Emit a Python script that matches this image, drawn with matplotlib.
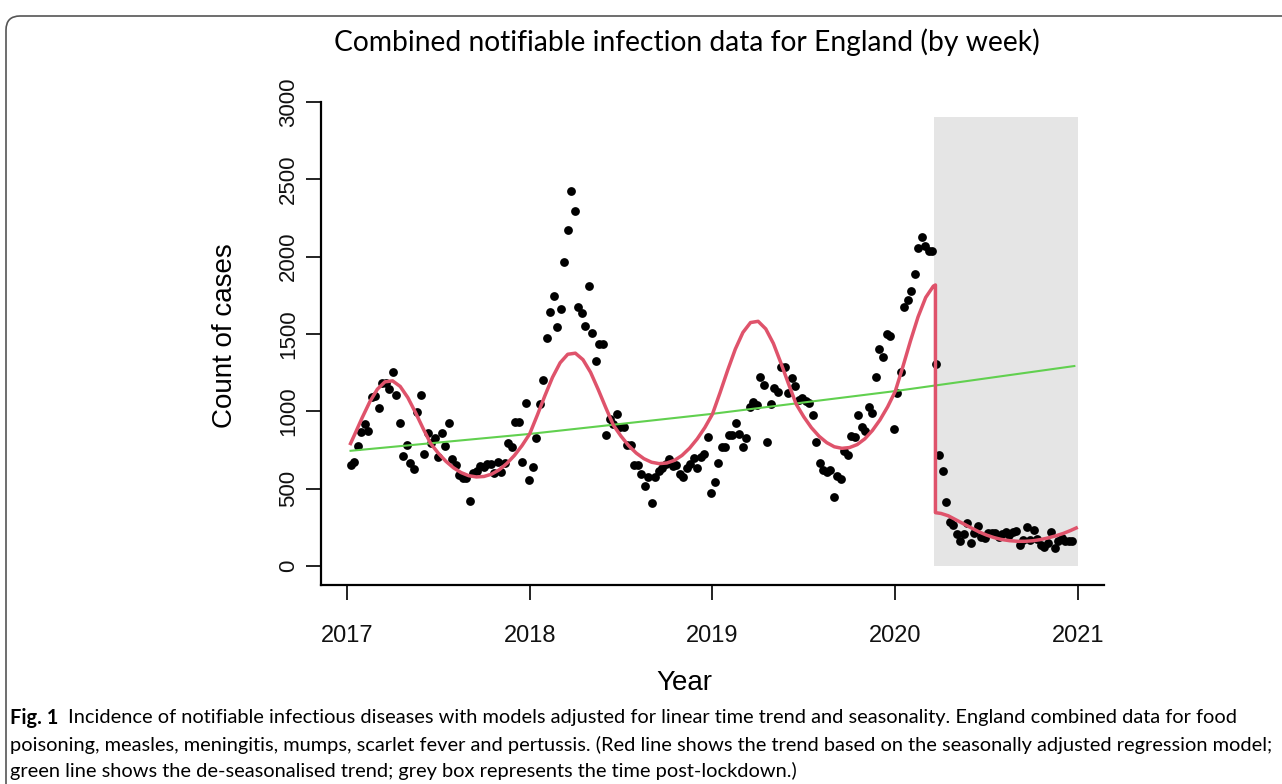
import numpy as np
import matplotlib
matplotlib.use("Agg")
import matplotlib.pyplot as plt
from matplotlib.patches import FancyBboxPatch, Rectangle
from matplotlib.transforms import IdentityTransform

# Weekly combined notifiable infection counts
counts_2017 = [653, 672, 776, 866, 918, 873, 1093, 1099, 1023, 1185,
               1183, 1144, 1256, 1105, 924, 713, 782, 665, 627, 997,
               1105, 724, 862, 795, 829, 707, 860, 776, 924, 692,
               653, 588, 569, 569, 420, 601, 616, 646, 642, 659,
               659, 601, 674, 610, 666, 795, 772, 934, 934, 674, 1054]
counts_2018 = [556, 640, 827, 1047, 1202, 1474, 1644, 1748, 1547, 1659,
               1967, 2172, 2426, 2297, 1676, 1633, 1553, 1810, 1508, 1323,
               1433, 1433, 847, 948, 918, 983, 897, 897, 782, 782,
               653, 653, 593, 517, 573, 409, 573, 616, 631, 659,
               690, 646, 653, 595, 573, 631, 659, 696, 631, 707, 724, 832]
counts_2019 = [474, 545, 668, 772, 767, 847, 847, 922, 853, 772,
               829, 1030, 1062, 1041, 1224, 1170, 800, 1045, 1149, 1127,
               1289, 1289, 1121, 1213, 1166, 1073, 1084, 1069, 1056, 976,
               804, 668, 621, 610, 621, 448, 582, 565, 745, 718,
               840, 832, 976, 901, 875, 1026, 992, 1224, 1401, 1353,
               1500, 1487, 885]
counts_2020 = [1121, 1252, 1672, 1720, 1780, 1888, 2054, 2129, 2069, 2038,
               2038, 1304, 718, 614, 411, 286, 265, 207, 164, 207,
               280, 147, 216, 259, 186, 179, 211, 211, 211, 186,
               207, 222, 200, 222, 226, 136, 168, 250, 168, 233,
               173, 136, 121, 151, 222, 114, 164, 179, 164, 164, 164]
first_week = 2017.02

# Seasonal regression model (red), sampled every half month up to lockdown
red_pre = [792,
           848, 958, 1061, 1143, 1191, 1197, 1161, 1089, 993, 890, 792, 730,
           677, 635, 604, 584, 576, 579, 594, 622, 663, 715, 779,
           854, 975, 1101, 1220, 1314, 1369, 1376, 1334, 1252, 1141, 1023, 910,
           839, 778, 730, 694, 671, 662, 666, 683, 715, 762, 822, 895,
           982, 1121, 1266, 1402, 1510, 1574, 1582, 1533, 1439, 1311, 1176, 1046,
           964, 894, 839, 798, 771, 761, 766, 785, 822, 876, 945, 1029,
           1129, 1288, 1455, 1611, 1736, 1809,
           1817]
red_post_t = [2020.22, 2020.25, 2020.29, 2020.33, 2020.375, 2020.42, 2020.46,
              2020.5, 2020.54, 2020.58, 2020.625, 2020.67, 2020.71, 2020.75,
              2020.79, 2020.83, 2020.875, 2020.92, 2020.96, 2020.99]
red_post = [345, 340, 325, 300, 272, 244, 220, 200, 184, 172, 164, 160, 160,
            163, 170, 180, 194, 211, 230, 246]

# De-seasonalised trend (green)
green_t = [2017.02, 2018.0, 2019.0, 2020.0, 2020.98]
green_v = [745, 854, 984, 1131, 1293]

lockdown = (2020.21, 2021.0)
box_top = 2900

counts = counts_2017 + counts_2018 + counts_2019 + counts_2020
weeks = first_week + np.arange(len(counts)) * 7 / 365.25
red_pre_t = np.r_[first_week, 2017 + np.arange(1, 78) / 24, red_post_t[0]]
red_t = np.r_[red_pre_t, red_post_t]
red_v = np.r_[red_pre, red_post]

W, H = 1282, 784
fig = plt.figure(figsize=(W / 100, H / 100), dpi=100)
fig.patch.set_facecolor("white")
x0, x1, y0, y1 = 321.3, 1103.6, 83.4, 584.6
ax = fig.add_axes([x0 / W, (H - y1) / H, (x1 - x0) / W, (y1 - y0) / H])

ax.add_patch(Rectangle((lockdown[0], 0), lockdown[1] - lockdown[0], box_top,
                       facecolor="#e5e5e5", edgecolor="none", zorder=1))
ax.scatter(weeks, counts, s=40, color="black", zorder=2, linewidths=0)
ax.plot(green_t, green_v, color="#61D04F", lw=1.5, zorder=3)
ax.plot(red_t, red_v, color="#DF536B", lw=2.5, zorder=4)

ax.set_xlim(2016.86, 2021.14)
ax.set_ylim(-120, 3120)
ax.set_xticks([2017, 2018, 2019, 2020, 2021])
ax.set_yticks(range(0, 3001, 500))
ax.set_yticklabels([str(v) for v in range(0, 3001, 500)], rotation=90, va="center")
for s in ("top", "right"):
    ax.spines[s].set_visible(False)
ax.spines["left"].set_bounds(-120, 3000)
ax.spines["left"].set_linewidth(1.6)
ax.spines["bottom"].set_linewidth(1.6)
ax.tick_params(axis="both", direction="out", length=11, width=1.4, color="#222222")
ax.tick_params(axis="x", labelsize=17, pad=18)
ax.tick_params(axis="y", labelsize=16, pad=5)
for lab in ax.get_xticklabels() + ax.get_yticklabels():
    lab.set_family("Liberation Sans")
    lab.set_color("#111111")

fig.text(684 / W, 1 - 683 / H, "Year", ha="center", va="center", fontsize=20,
         family="Liberation Sans")
fig.text(225 / W, 1 - 336 / H, "Count of cases", ha="center", va="center",
         rotation=90, fontsize=20, family="Liberation Sans")

title = fig.text(687 / W, 1 - 42 / H,
                 "Combined notifiable infection data for England (by week)",
                 ha="center", va="center", fontsize=19, family="Lato")

# figure frame with rounded corner, cut by the right and bottom edges
fig.add_artist(FancyBboxPatch((6, -30), W + 30, H - 10 + 30 - 6,
                              boxstyle="round,pad=0,rounding_size=14",
                              transform=IdentityTransform(), facecolor="none",
                              edgecolor="#555555", lw=1.2))

cap_font = ["Lato", "DejaVu Sans"]
cap_lines = [
    "Incidence of notifiable infectious diseases with models adjusted for linear time trend and seasonality. England combined data for food",
    "poisoning, measles, meningitis, mumps, scarlet fever and pertussis. (Red line shows the trend based on the seasonally adjusted regression model;",
    "green line shows the de-seasonalised trend; grey box represents the time post-lockdown.)",
]
cap_y = [718, 745, 771]
cap_x = 10
fig.canvas.draw()
r = fig.canvas.get_renderer()

# size the caption so line 2 fills the measured width
probe = fig.text(0, 0, cap_lines[1], fontsize=12, family=cap_font)
cap_fs = 12 * (1266 - cap_x) / probe.get_window_extent(r).width
probe.remove()

tw = title.get_window_extent(r).width
title.set_fontsize(19 * 707 / tw)

fig_lbl = fig.text(cap_x / W, 1 - cap_y[0] / H, "Fig. 1", fontsize=cap_fs,
                   family=cap_font, weight="bold", va="center")
bb = fig_lbl.get_window_extent(r)
fig.text((bb.x1 + 10) / W, 1 - cap_y[0] / H, cap_lines[0], fontsize=cap_fs,
         family=cap_font, va="center")
for txt, yy in zip(cap_lines[1:], cap_y[1:]):
    fig.text(cap_x / W, 1 - yy / H, txt, fontsize=cap_fs, family=cap_font,
             va="center")

fig.savefig("out.png", dpi=100)
print("saved out.png")
